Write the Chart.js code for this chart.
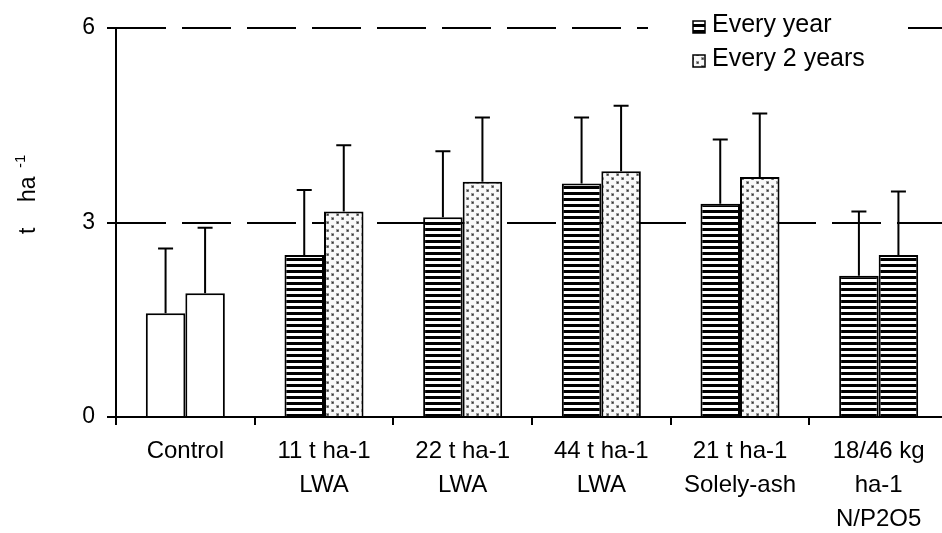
<!DOCTYPE html>
<html>
<head>
<meta charset="utf-8">
<script src="https://cdn.jsdelivr.net/npm/chart.js@4.4.0/dist/chart.umd.min.js"></script>
<style>
  html, body { margin: 0; padding: 0; background: #fff; overflow: hidden; }
  #wrap { width: 948px; height: 533px; }
</style>
</head>
<body>
<div id="wrap"><canvas id="barChart"></canvas></div>
<script>
// categories and values
const categories = [
    ['Control'],
    ['11 t ha-1', 'LWA'],
    ['22 t ha-1', 'LWA'],
    ['44 t ha-1', 'LWA'],
    ['21 t ha-1', 'Solely-ash'],
    ['18/46 kg', 'ha-1', 'N/P2O5']
];
const seriesNames = ['Every year', 'Every 2 years'];
const everyYear = [1.6, 2.5, 3.08, 3.6, 3.29, 2.18];
const everyYearErr = [1.0, 1.0, 1.02, 1.02, 0.99, 0.99];
const every2Years = [1.91, 3.17, 3.63, 3.79, 3.7, 2.5];
const every2YearsErr = [1.01, 1.02, 0.99, 1.01, 0.98, 0.98];
const yTicks = [0, 3, 6];

Chart.defaults.font.family = '"Liberation Sans", Arial, sans-serif';
Chart.defaults.color = '#000';

// hatch fills
function makeStripes() {
    const c = document.createElement('canvas');
    c.width = 6; c.height = 6;
    const g = c.getContext('2d');
    g.fillStyle = '#fff';
    g.fillRect(0, 0, 6, 6);
    g.fillStyle = '#000';
    g.fillRect(0, 0, 6, 3);
    return g.createPattern(c, 'repeat');
}
function makeDots() {
    const c = document.createElement('canvas');
    c.width = 10; c.height = 8;
    const g = c.getContext('2d');
    g.fillStyle = '#f8f8f8';
    g.fillRect(0, 0, 10, 8);
    g.fillStyle = '#999';
    g.fillRect(1, 1, 3, 3);
    g.fillRect(6, 5, 3, 3);
    g.fillStyle = '#333';
    g.fillRect(2, 2, 1.5, 1.5);
    g.fillRect(7, 6, 1.5, 1.5);
    return g.createPattern(c, 'repeat');
}
const stripes = makeStripes();
const dots = makeDots();

const fillYear = ['#fff', stripes, stripes, stripes, stripes, stripes];
const fill2Years = ['#fff', dots, dots, dots, dots, stripes];

// upper error bars
const errorBars = {
    id: 'errorBars',
    afterDatasetsDraw(chart) {
        const ctx = chart.ctx;
        const y = chart.scales.y;
        ctx.save();
        ctx.strokeStyle = '#000';
        ctx.lineWidth = 2;
        chart.data.datasets.forEach((ds, i) => {
            chart.getDatasetMeta(i).data.forEach((bar, j) => {
                const top = y.getPixelForValue(ds.data[j] + ds.errors[j]);
                ctx.beginPath();
                ctx.moveTo(bar.x, bar.y);
                ctx.lineTo(bar.x, top);
                ctx.moveTo(bar.x - 7.5, top);
                ctx.lineTo(bar.x + 7.5, top);
                ctx.stroke();
            });
        });
        ctx.restore();
    }
};

// legend box and y title
const extras = {
    id: 'extras',
    afterDraw(chart) {
        const ctx = chart.ctx;
        ctx.save();
        ctx.fillStyle = '#fff';
        ctx.fillRect(648, 4, 260, 74);

        const fills = [stripes, dots];
        ctx.font = '25px "Liberation Sans", Arial, sans-serif';
        ctx.textBaseline = 'alphabetic';
        ctx.textAlign = 'left';
        seriesNames.forEach((name, i) => {
            const baseY = 32 + i * 34;
            ctx.fillStyle = fills[i];
            ctx.fillRect(693, baseY - 11, 12, 12);
            ctx.strokeStyle = '#000';
            ctx.lineWidth = 1.5;
            ctx.strokeRect(693, baseY - 11, 12, 12);
            ctx.fillStyle = '#000';
            ctx.fillText(name, 712, baseY);
        });

        ctx.translate(35, 234);
        ctx.rotate(-Math.PI / 2);
        ctx.fillStyle = '#000';
        ctx.font = '23px "Liberation Sans", Arial, sans-serif';
        ctx.fillText('t    ha', 0, 0);
        const w = ctx.measureText('t    ha ').width;
        ctx.font = '15px "Liberation Sans", Arial, sans-serif';
        ctx.fillText('-1', w + 2, -10);
        ctx.restore();
    }
};

new Chart(document.getElementById('barChart'), {
    type: 'bar',
    data: {
        labels: categories,
        datasets: [{
            label: seriesNames[0],
            data: everyYear,
            errors: everyYearErr,
            backgroundColor: fillYear,
            borderColor: '#000',
            borderWidth: 2
        }, {
            label: seriesNames[1],
            data: every2Years,
            errors: every2YearsErr,
            backgroundColor: fill2Years,
            borderColor: '#000',
            borderWidth: 2
        }]
    },
    options: {
        responsive: true,
        maintainAspectRatio: false,
        animation: false,
        events: [],
        layout: { padding: { top: 28, right: 0, left: 0, bottom: 0 } },
        plugins: {
            legend: { display: false },
            tooltip: { enabled: false }
        },
        datasets: {
            bar: { categoryPercentage: 0.57, barPercentage: 1.0 }
        },
        scales: {
            x: {
                grid: {
                    display: true,
                    drawOnChartArea: false,
                    drawTicks: true,
                    tickLength: 8,
                    color: '#000',
                    lineWidth: 2,
                    offset: true
                },
                border: { display: true, color: '#000', width: 2 },
                ticks: {
                    font: { size: 24, lineHeight: 1.4 },
                    padding: 10,
                    maxRotation: 0,
                    autoSkip: false
                },
                afterFit(scale) { scale.height = 116; }
            },
            y: {
                min: 0,
                max: 6,
                afterBuildTicks(scale) {
                    scale.ticks = yTicks.map(v => ({ value: v }));
                },
                grid: {
                    color: '#000',
                    lineWidth: 2,
                    drawTicks: true,
                    tickLength: 9,
                    tickBorderDash: []
                },
                border: { display: true, color: '#000', width: 2, dash: [49, 16] },
                ticks: {
                    font: { size: 23 },
                    padding: 12
                },
                afterFit(scale) { scale.width = 116; }
            }
        }
    },
    plugins: [errorBars, extras]
});
</script>
</body>
</html>
